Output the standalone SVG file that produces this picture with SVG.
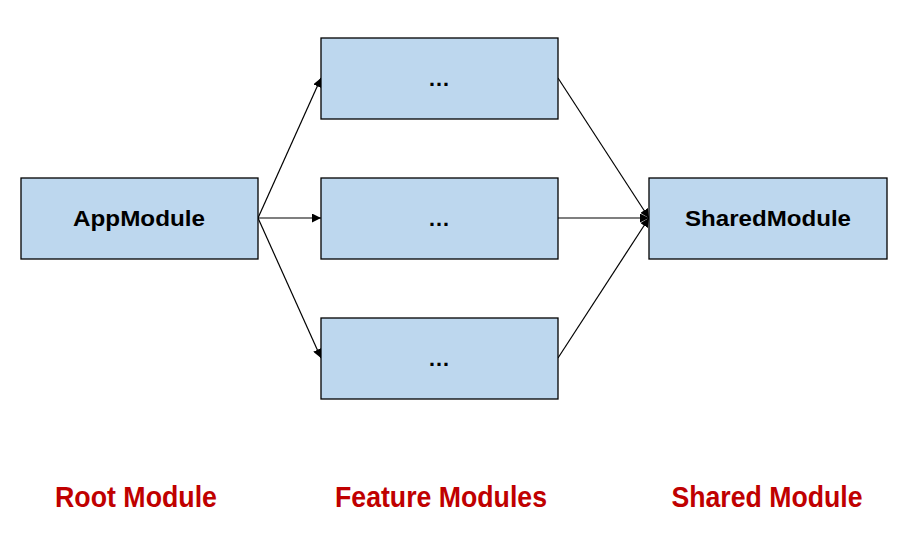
<svg xmlns="http://www.w3.org/2000/svg" width="906" height="534" viewBox="0 0 906 534">
<style>
.box{fill:#BDD7EE;stroke:#000;stroke-width:1.3}
.t{font-family:"Liberation Sans",Arial,sans-serif;font-weight:bold;font-size:22px;fill:#000;text-anchor:middle}
.lab{font-family:"Liberation Sans",Arial,sans-serif;font-weight:bold;font-size:29px;fill:#C00000;text-anchor:middle}
.c{stroke:#000;stroke-width:1.2;fill:none;marker-end:url(#ah)}
</style>
<defs>
<marker id="ah" viewBox="0 0 10 10" refX="10" refY="5" markerWidth="9" markerHeight="9" markerUnits="userSpaceOnUse" orient="auto">
<path d="M0,0 L10,5 L0,10 z" fill="#000"/>
</marker>
</defs>
<rect width="906" height="534" fill="#fff"/>
<g id="connectors">
<line class="c" x1="258" y1="218" x2="321" y2="78"/>
<line class="c" x1="258" y1="218" x2="321" y2="218"/>
<line class="c" x1="258" y1="218" x2="321" y2="358"/>
<line class="c" x1="558" y1="78" x2="649" y2="218"/>
<line class="c" x1="558" y1="218" x2="649" y2="218"/>
<line class="c" x1="558" y1="358" x2="649" y2="218"/>
</g>
<g id="app"><rect class="box" x="21" y="178" width="237" height="81"/><text class="t" x="139" y="226" textLength="132" lengthAdjust="spacingAndGlyphs">AppModule</text></g>
<g id="f1"><rect class="box" x="321" y="38" width="237" height="81"/><text class="t" x="439" y="86" font-size="24">…</text></g>
<g id="f2"><rect class="box" x="321" y="178" width="237" height="81"/><text class="t" x="439" y="226" font-size="24">…</text></g>
<g id="f3"><rect class="box" x="321" y="318" width="237" height="81"/><text class="t" x="439" y="366" font-size="24">…</text></g>
<g id="shared"><rect class="box" x="649" y="178" width="238" height="81"/><text class="t" x="768" y="226" textLength="166" lengthAdjust="spacingAndGlyphs">SharedModule</text></g>
<g id="labels">
<text class="lab" x="136" y="507" textLength="162" lengthAdjust="spacingAndGlyphs">Root Module</text>
<text class="lab" x="441" y="507" textLength="212" lengthAdjust="spacingAndGlyphs">Feature Modules</text>
<text class="lab" x="767" y="507" textLength="191" lengthAdjust="spacingAndGlyphs">Shared Module</text>
</g>
</svg>
